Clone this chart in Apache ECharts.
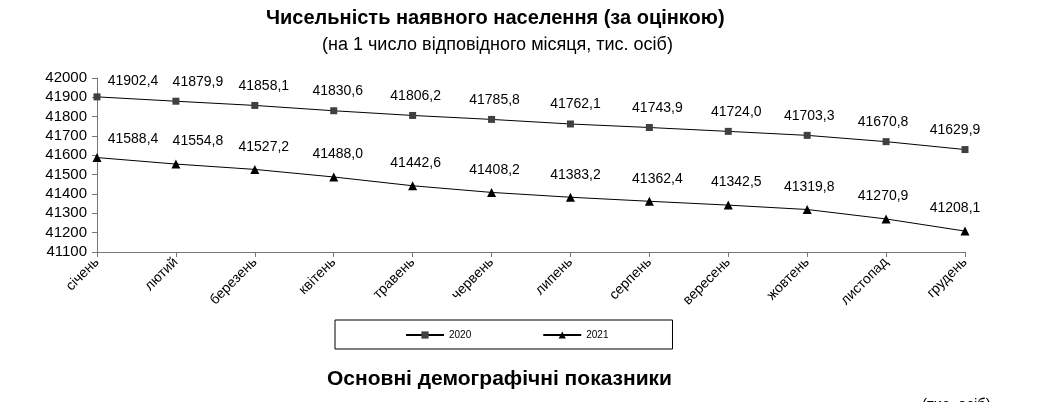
<!DOCTYPE html>
<html><head><meta charset="utf-8">
<script src="https://cdn.jsdelivr.net/npm/echarts@6/dist/echarts.min.js"></script>
<style>html,body{margin:0;padding:0;background:#fff}#c{width:1040px;height:402px}</style>
</head><body><div id="c"></div>
<script>
const months = ['січень','лютий','березень','квітень','травень','червень','липень','серпень','вересень','жовтень','листопад','грудень'];
const pop2020 = [41902.4,41879.9,41858.1,41830.6,41806.2,41785.8,41762.1,41743.9,41724.0,41703.3,41670.8,41629.9];
const pop2021 = [41588.4,41554.8,41527.2,41488.0,41442.6,41408.2,41383.2,41362.4,41342.5,41319.8,41270.9,41208.1];
const yTicks = {min:41100, max:42000, step:100};

const labelDx = [36,22,9,4,3,3,5,8,8,2,-3,-10];
const fmt = v => v.toFixed(1).replace('.', ',');
const font = 'Liberation Sans, Arial, sans-serif';

function mk(vals, dy) {
  return vals.map((v,i)=>({value:v, label:{offset:[labelDx[i], i===0 ? dy+4 : dy]}}));
}

const chart = echarts.init(document.getElementById('c'), null, {renderer:'canvas'});
chart.setOption({
  animation:false,
  textStyle:{fontFamily:font},
  title:[
    {text:'Чисельність наявного населення (за оцінкою)', left:266, top:8, padding:0, textStyle:{fontSize:20,fontWeight:'bold',color:'#000',fontFamily:font}},
    {text:'(на 1 число відповідного місяця, тис. осіб)', left:322, top:36, padding:0, textStyle:{fontSize:18,fontWeight:'normal',color:'#000',fontFamily:font}},
    {text:'Основні демографічні показники', left:327, top:369, padding:0, textStyle:{fontSize:21,fontWeight:'bold',color:'#000',fontFamily:font}},
    {text:'(тис. осіб)', left:922, top:397, padding:0, textStyle:{fontSize:15,fontWeight:'normal',color:'#000',fontFamily:font}}
  ],
  grid:{left:97, right:75, top:78, bottom:150, containLabel:false},
  legend:{
    left:335, top:320, orient:'horizontal',
    padding:[10,64,9,70], itemGap:71, itemWidth:38, itemHeight:9,
    borderColor:'#000', borderWidth:1,
    textStyle:{fontSize:10,color:'#000',fontFamily:font},
    data:['2020','2021']
  },
  xAxis:{
    type:'category', data:months, boundaryGap:false,
    axisLine:{lineStyle:{color:'#777',width:1}},
    axisTick:{show:true, alignWithLabel:true, length:5, lineStyle:{color:'#777'}},
    axisLabel:{rotate:45, fontSize:14, color:'#000', margin:8, interval:0, fontFamily:font}
  },
  yAxis:{
    type:'value', min:yTicks.min, max:yTicks.max, interval:yTicks.step,
    splitLine:{show:false},
    axisLine:{show:true, lineStyle:{color:'#777',width:1}},
    axisTick:{show:true, length:5, lineStyle:{color:'#777'}},
    axisLabel:{fontSize:15, color:'#000', margin:10, fontFamily:font, formatter:v=>String(v)}
  },
  series:[
    {name:'2020', type:'line', data:mk(pop2020,-7), symbol:'rect', symbolSize:7,
     lineStyle:{color:'#000',width:1}, itemStyle:{color:'#404040'},
     label:{show:true, position:'top', distance:2, fontSize:14, color:'#000', formatter:p=>fmt(p.value), fontFamily:font}},
    {name:'2021', type:'line', data:mk(pop2021,-9), symbol:'triangle', symbolSize:9,
     lineStyle:{color:'#000',width:1}, itemStyle:{color:'#000'},
     label:{show:true, position:'top', distance:2, fontSize:14, color:'#000', formatter:p=>fmt(p.value), fontFamily:font}}
  ]
});
</script></body></html>
